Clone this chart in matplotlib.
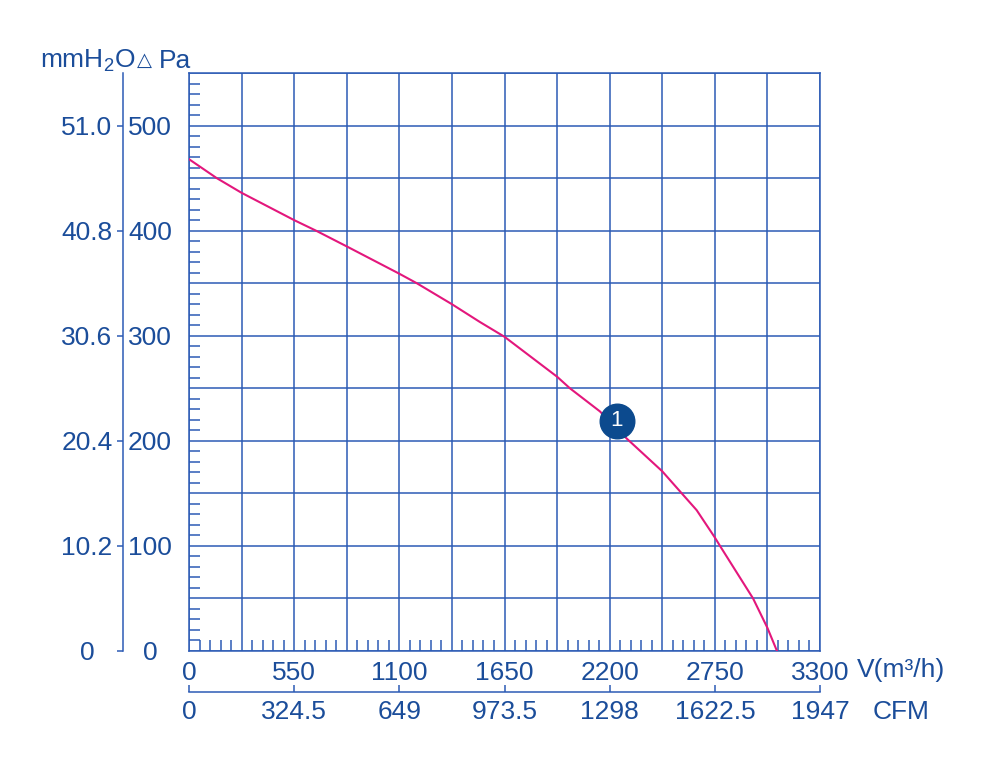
import matplotlib
matplotlib.use('Agg')
import matplotlib.pyplot as plt
from matplotlib.ticker import MultipleLocator

plt.rcParams['font.family'] = ['Liberation Sans', 'DejaVu Sans']
plt.rcParams['mathtext.default'] = 'regular'

# fan curve
flow = [0, 145, 275, 550, 664, 825, 1100, 1191, 1375, 1522, 1650, 1925, 1992, 2149,
        2290, 2475, 2577, 2655, 2750, 2777, 2950, 3025, 3075]
pressure = [468, 450, 436, 410, 400, 385, 359, 350, 330, 313, 299, 261, 250, 228,
            202, 171, 150, 134, 108, 100, 50, 22, 0]

x_ticks = [0, 550, 1100, 1650, 2200, 2750, 3300]
cfm_ticks = [0, 324.5, 649, 973.5, 1298, 1622.5, 1947]
cfm_labels = ['0', '324.5', '649', '973.5', '1298', '1622.5', '1947']
pa_ticks = [0, 100, 200, 300, 400, 500]
mm_labels = ['0', '10.2', '20.4', '30.6', '40.8', '51.0']

point_x, point_y = 2238, 219

blue = '#2c5bb5'
txt = '#1b4d9a'
navy = '#0c4a8e'
pink = '#e3177c'
fs = 19

fig = plt.figure(figsize=(10, 7.76), dpi=100)
ax = fig.add_axes([0.189, 0.1611, 0.631, 0.7448])

grid_x = list(range(0, 3301, 275))
grid_y = list(range(0, 551, 50))
ax.set_xticks(grid_x)
ax.set_xticklabels([str(v) if v in x_ticks else '' for v in grid_x], fontsize=fs, color=txt)
ax.set_yticks(grid_y)
ax.set_yticklabels([str(v) if v in pa_ticks else '' for v in grid_y],
                   fontsize=fs, color=txt, ha='center')
ax.xaxis.set_minor_locator(MultipleLocator(55))
ax.yaxis.set_minor_locator(MultipleLocator(10))
ax.set_xlim(0, 3300)
ax.set_ylim(0, 550)
ax.grid(True, which='major', color=blue, lw=1.1)
ax.tick_params(which='major', length=0)
ax.tick_params(which='minor', direction='in', length=8, width=1.1, color=blue,
               top=False, right=False)
ax.tick_params(axis='x', pad=7)
ax.tick_params(axis='y', pad=28)
for s in ax.spines.values():
    s.set_color(blue)
    s.set_linewidth(1.1)

ax.plot(flow, pressure, color=pink, lw=1.5, zorder=3)
ax.scatter([point_x], [point_y], s=620, color=navy, zorder=4)
ax.text(point_x, point_y, '1', color='white', fontsize=16, ha='center', va='center', zorder=5)

# CFM axis
sec = ax.secondary_xaxis(-0.071, functions=(lambda v: v * 0.59, lambda v: v / 0.59))
sec.set_xticks(cfm_ticks)
sec.set_xticklabels(cfm_labels, fontsize=fs, color=txt)
sec.tick_params(direction='in', length=5, width=1.1, color=blue, pad=6)
sec.spines['bottom'].set_color(blue)
sec.spines['bottom'].set_linewidth(1.1)

# mmH2O axis
axl = fig.add_axes([0.123, 0.1611, 0.0001, 0.7448])
axl.set_ylim(0, 550)
axl.set_xticks([])
axl.set_yticks(pa_ticks)
axl.set_yticklabels(mm_labels, fontsize=fs, color=txt, ha='center')
axl.tick_params(axis='y', direction='out', length=4, width=1.1, color=blue, pad=22)
for k in ['top', 'right', 'bottom']:
    axl.spines[k].set_visible(False)
axl.spines['left'].set_color(blue)
axl.spines['left'].set_linewidth(1.1)
axl.patch.set_visible(False)

fig.text(0.040, 0.922, 'mmH$_2$O', fontsize=fs, color=txt, va='center')
fig.text(0.137, 0.922, '△', fontsize=14, color=txt, va='center',
         family=['DejaVu Sans'])
fig.text(0.159, 0.922, 'Pa', fontsize=fs, color=txt, va='center')
fig.text(0.857, 0.137, 'V(m³/h)', fontsize=fs, color=txt, va='center')
fig.text(0.873, 0.083, 'CFM', fontsize=fs, color=txt, va='center')

fig.savefig('out.png', dpi=100)
